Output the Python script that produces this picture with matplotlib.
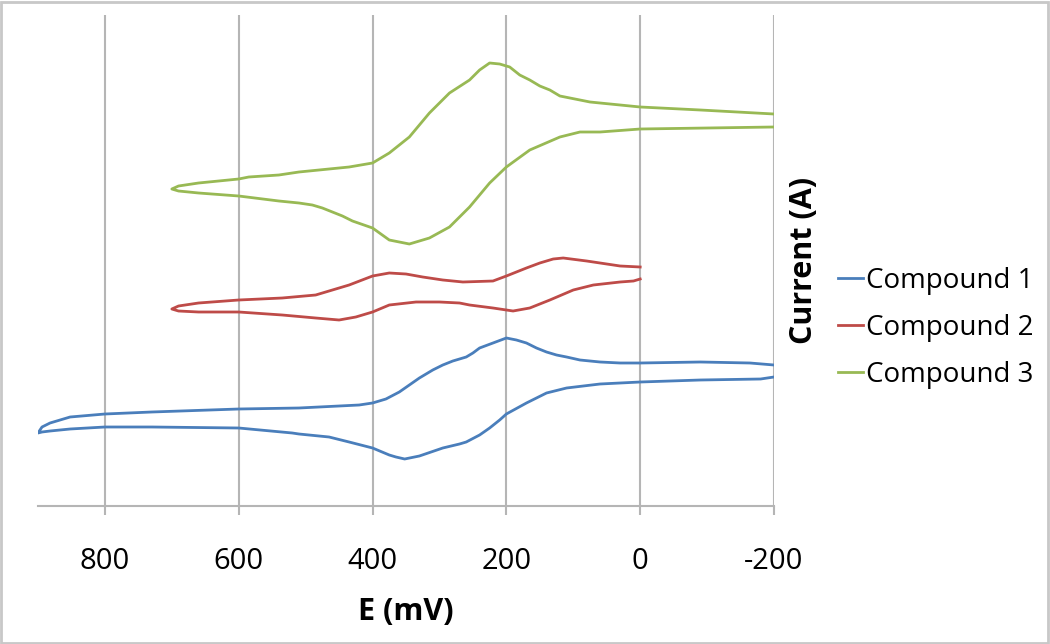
import matplotlib
matplotlib.use("Agg")
import matplotlib.pyplot as plt
import matplotlib.patches as mpatches
import numpy as np

plt.rcParams['font.family'] = ['Open Sans', 'DejaVu Sans']
plt.rcParams['axes.unicode_minus'] = False

# Compound 1 (blue): forward branch -200 -> 900, then back 900 -> -200
e1 = [-200, -164, -90, 0, 30, 60, 75, 90, 110, 125, 140, 155, 170, 185, 200, 220, 240, 250, 260, 280, 295, 310, 330, 345, 360, 380, 400, 420, 450,
      510, 600, 730, 800, 852, 867, 882, 894, 900,
      894, 882, 852, 800, 730, 600, 520, 510, 465, 435, 400, 375, 365, 352, 330, 295, 270, 260, 240, 225, 210, 200, 170, 140, 110, 60, 0, -90, -180, -200]
i1 = [14.1, 14.3, 14.4, 14.3, 14.3, 14.4, 14.5, 14.6, 14.9, 15.1, 15.4, 15.8, 16.3, 16.6, 16.8, 16.3, 15.8, 15.3, 14.9, 14.5, 14.1, 13.6, 12.8, 12.1, 11.4, 10.7, 10.3, 10.1, 10.0,
      9.8, 9.7, 9.4, 9.2, 8.9, 8.6, 8.3, 7.9, 7.3,
      7.4, 7.5, 7.7, 7.9, 7.9, 7.8, 7.3, 7.2, 6.9, 6.4, 5.8, 5.1, 4.9, 4.7, 5.0, 5.8, 6.2, 6.4, 7.1, 7.8, 8.6, 9.2, 10.3, 11.3, 11.8, 12.2, 12.4, 12.6, 12.7, 12.9]

# Compound 2 (red): 0 -> 700 -> 0
e2 = [0, 30, 50, 80, 115, 130, 150, 170, 200, 220, 265, 295, 325, 350, 375, 400, 435, 485, 535, 600, 660, 690, 700,
      690, 660, 600, 535, 485, 450, 425, 400, 375, 335, 300, 270, 255, 220, 190, 165, 135, 100, 70, 30, 10, 0]
i2 = [23.9, 24.0, 24.2, 24.5, 24.8, 24.7, 24.3, 23.8, 23.0, 22.5, 22.4, 22.6, 22.9, 23.2, 23.3, 23.0, 22.1, 21.1, 20.8, 20.6, 20.3, 20.0, 19.7,
      19.5, 19.4, 19.4, 19.1, 18.8, 18.6, 18.9, 19.4, 20.1, 20.4, 20.4, 20.3, 20.1, 19.8, 19.5, 19.8, 20.6, 21.6, 22.1, 22.4, 22.5, 22.7]

# Compound 3 (green): -200 -> 700 -> -200
e3 = [-200, -90, 0, 60, 75, 120, 135, 150, 165, 180, 195, 210, 225, 240, 255, 285, 315, 345, 375, 400, 435, 510, 540, 585, 600, 660, 690, 700,
      690, 660, 600, 540, 510, 490, 475, 460, 445, 430, 400, 375, 345, 315, 285, 255, 225, 200, 165, 120, 90, 60, 0, -200]
i3 = [39.2, 39.6, 39.9, 40.3, 40.4, 41.0, 41.6, 42.0, 42.6, 43.1, 43.9, 44.2, 44.3, 43.6, 42.6, 41.3, 39.3, 36.9, 35.3, 34.3, 33.9, 33.4, 33.1, 32.9, 32.7, 32.3, 32.0, 31.7,
      31.5, 31.3, 31.0, 30.5, 30.3, 30.1, 29.8, 29.4, 29.0, 28.5, 27.8, 26.6, 26.2, 26.8, 27.9, 29.9, 32.3, 33.9, 35.6, 36.9, 37.4, 37.4, 37.7, 37.9]

labels = ["Compound 1", "Compound 2", "Compound 3"]
colors = ["#4a7ebb", "#be4b48", "#98b954"]
xticks = [800, 600, 400, 200, 0, -200]

fig = plt.figure(figsize=(10.5, 6.44), dpi=100)
ax = fig.add_axes([38/1050, 138/644, 736/1050, 491/644])

ax.plot(e1, i1, color=colors[0], lw=2, label=labels[0])
ax.plot(e2, i2, color=colors[1], lw=2, label=labels[1])
ax.plot(e3, i3, color=colors[2], lw=2, label=labels[2])

ax.set_xlim(900, -200)
ax.set_ylim(0, 49.1)
ax.set_xticks(xticks)
ax.set_yticks([])
ax.grid(axis='x', color='#b5b5b5', lw=1.5)
for s in ['top', 'left', 'right']:
    ax.spines[s].set_visible(False)
ax.spines['bottom'].set_color('#b5b5b5')
ax.spines['bottom'].set_linewidth(1.5)
ax.tick_params(axis='x', direction='out', length=6.5, width=1.5, color='#b5b5b5',
               pad=23, labelsize=21)

ax.set_xlabel("E (mV)", fontsize=22, fontweight='bold', labelpad=15)
ax.yaxis.set_label_position('right')
ax.set_ylabel("Current (A)", fontsize=22, fontweight='bold', labelpad=11)

ax.legend(loc='center left', bbox_to_anchor=(838/1050, 1 - 328/644),
          bbox_transform=fig.transFigure, frameon=False, fontsize=20,
          handlelength=0.9, handletextpad=0.1, labelspacing=0.68,
          borderpad=0, borderaxespad=0)

fig.patches.append(mpatches.Rectangle((0.001, 0.002), 0.997, 0.995, transform=fig.transFigure,
                                      fill=False, edgecolor='#c8c8c8', lw=2))

fig.savefig("out.png", dpi=100)
